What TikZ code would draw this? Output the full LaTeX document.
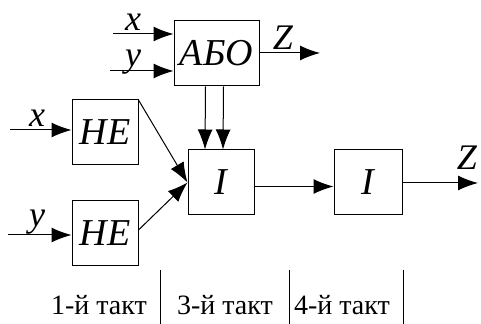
\documentclass[tikz,border=0pt]{standalone}
\usepackage{fontspec}
\setmainfont{Liberation Serif}
\usetikzlibrary{positioning, arrows.meta}
\tikzset{
	gate/.style= {
		rectangle,
		draw,
		line width=0.5pt,
		inner sep=0,
		minimum width=33pt,
		minimum height=32.5pt,
		font=\fontsize{19}{19}\selectfont\itshape
	},
	sig/.style= {
		inner sep=0,
		font=\fontsize{18}{18}\selectfont\itshape
	},
	tact/.style= {
		inner sep=0,
		font=\fontsize{14}{14}\selectfont
	},
	wire/.style= {
		line width=0.5pt,
		-{Latex[length=10pt,width=7.5pt]}
	},
}

\begin{document}
\begin{tikzpicture}[x=0.5pt, y=-0.5pt]
		\useasboundingbox (0,0) rectangle (481,324);
		
		\node (abo) [gate, minimum width=42.5pt] at (216.5,53.5) {АБО};
		\node (nex) [gate] at (105,132) {НЕ};
		\node (ney) [gate] at (105,233.5) {НЕ};
		\node (and1) [gate] at (221,182.5) {І};
		\node (and2) [gate, minimum width=34pt] at (368,182.5) {І};
		
		% free ends of the inputs and outputs
		\coordinate (ax) at (113,34);
		\coordinate (ay) at (110,71);
		\coordinate (nx) at (10,130);
		\coordinate (ny) at (8,235);
		\coordinate (zout1) at (320,53);
		\coordinate (zout2) at (478,183);
		
		\node (axl) [sig] at (133,22) {x};
		\node (ayl) [sig] at (133,62) {y};
		\node (nxl) [sig] at (37,118) {x};
		\node (nyl) [sig] at (37,222) {y};
		\node (z1l) [sig] at (283,38) {Z};
		\node (z2l) [sig] at (467,158) {Z};
		
		\draw[wire] (ax) to (ax -| abo.west);
		\draw[wire] (ay) to (ay -| abo.west);
		\draw[wire] (abo.east |- zout1) to (zout1);
		\draw[wire] ([xshift=-5.5pt]abo.south) to ([xshift=-8pt]and1.north);
		\draw[wire] ([xshift=3.5pt]abo.south) to ([xshift=1pt]and1.north);
		\draw[wire] (nx) to (nx -| nex.west);
		\draw[wire] (ny) to (ny -| ney.west);
		\draw[wire] ([yshift=-0.5pt]nex.north east) to (and1.west);
		\draw[wire] ([yshift=2.5pt]ney.south east |- ny) to (and1.west);
		\draw[wire] ([yshift=-2pt]and1.east) to ([yshift=-2pt]and2.west);
		\draw[wire] (and2.east |- zout2) to (zout2);
		
		% tact separators
		\node (t1) [tact] at (99,305) {1-й такт};
		\node (t3) [tact] at (225,305) {3-й такт};
		\node (t4) [tact] at (342,305) {4-й такт};
		\draw[line width=0.5pt] (160,270) -- (160,324);
		\draw[line width=0.5pt] (289,270) -- (289,324);
		\draw[line width=0.5pt] (403,270) -- (403,324);
\end{tikzpicture}
\end{document}
